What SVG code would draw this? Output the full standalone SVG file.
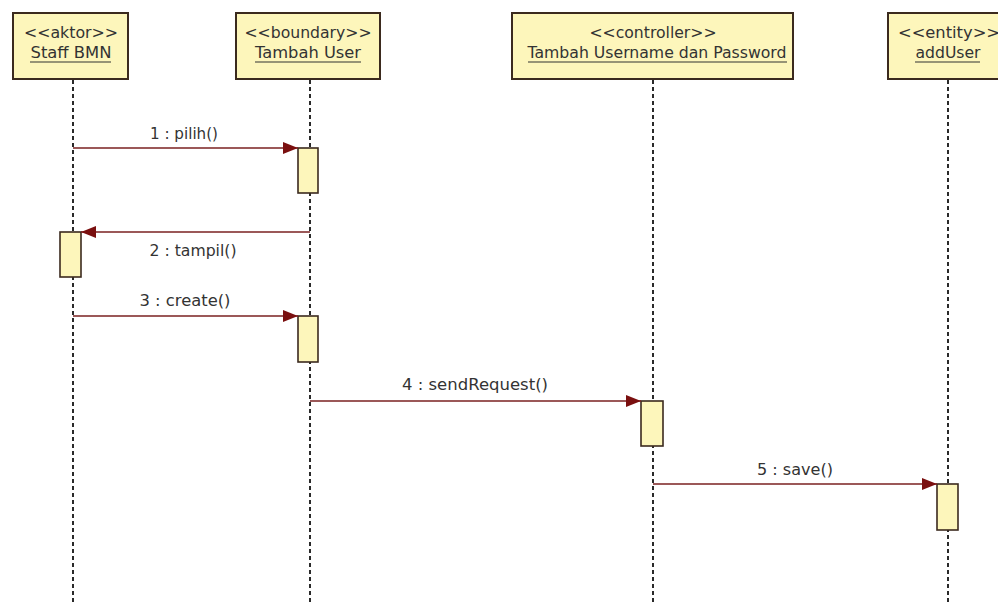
<svg xmlns="http://www.w3.org/2000/svg" width="998" height="605" viewBox="0 0 998 605">
<style>
.box{fill:#fdf6bb;stroke:#3b2a1e;stroke-width:2}
.act{fill:#fdf6bb;stroke:#3b2a1e;stroke-width:1.6}
.life{stroke:#2a2a2a;stroke-width:2;stroke-dasharray:4 3;fill:none}
.msg{stroke:#7a2020;stroke-width:1.4;fill:none}
.t{font-family:"DejaVu Sans",Verdana,sans-serif;font-size:16px;fill:#333;text-anchor:middle}
.m{font-family:"DejaVu Sans",Verdana,sans-serif;font-size:15px;fill:#333;text-anchor:middle}
.ul{stroke:#333;stroke-width:1.2}
</style>
<defs>
<marker id="ah" markerWidth="16" markerHeight="12" refX="15" refY="6" orient="auto" markerUnits="userSpaceOnUse">
<path d="M0,0 L15,6 L0,12 Z" fill="#7a0f0f"/>
</marker>
</defs>
<rect width="998" height="605" fill="#ffffff"/>
<g id="lifelines">
<line class="life" x1="73" y1="80" x2="73" y2="605"/>
<line class="life" x1="310" y1="80" x2="310" y2="605"/>
<line class="life" x1="653" y1="80" x2="653" y2="605"/>
<line class="life" x1="948" y1="80" x2="948" y2="605"/>
</g>
<g id="staff">
<rect class="box" x="13" y="13" width="115" height="66"/>
<text class="t" x="71" y="38" textLength="94" lengthAdjust="spacingAndGlyphs">&lt;&lt;aktor&gt;&gt;</text>
<text class="t" x="71" y="58" textLength="81" lengthAdjust="spacingAndGlyphs">Staff BMN</text>
<line class="ul" x1="30" y1="62" x2="111" y2="62"/>
</g>
<g id="tambahUser">
<rect class="box" x="236" y="13" width="144" height="66"/>
<text class="t" x="308" y="38" textLength="127" lengthAdjust="spacingAndGlyphs">&lt;&lt;boundary&gt;&gt;</text>
<text class="t" x="308" y="58" textLength="106" lengthAdjust="spacingAndGlyphs">Tambah User</text>
<line class="ul" x1="255" y1="62" x2="361" y2="62"/>
</g>
<g id="controller">
<rect class="box" x="512" y="13" width="281" height="66"/>
<text class="t" x="653" y="38" textLength="127" lengthAdjust="spacingAndGlyphs">&lt;&lt;controller&gt;&gt;</text>
<text class="t" x="657" y="58" textLength="259" lengthAdjust="spacingAndGlyphs">Tambah Username dan Password</text>
<line class="ul" x1="528" y1="62" x2="787" y2="62"/>
</g>
<g id="entity">
<rect class="box" x="888" y="13" width="122" height="66"/>
<text class="t" x="949" y="38" textLength="102" lengthAdjust="spacingAndGlyphs">&lt;&lt;entity&gt;&gt;</text>
<text class="t" x="948" y="58" textLength="65" lengthAdjust="spacingAndGlyphs">addUser</text>
<line class="ul" x1="915" y1="62" x2="980" y2="62"/>
</g>
<g id="activations">
<rect class="act" x="298" y="148" width="20" height="45"/>
<rect class="act" x="60" y="232" width="21" height="45"/>
<rect class="act" x="298" y="316" width="20" height="46"/>
<rect class="act" x="641" y="401" width="22" height="45"/>
<rect class="act" x="937" y="484" width="21" height="46"/>
</g>
<g id="connectors">
<line class="msg" x1="73" y1="148" x2="298" y2="148" marker-end="url(#ah)"/>
<text class="m" x="184" y="139" textLength="68" lengthAdjust="spacingAndGlyphs">1 : pilih()</text>
<line class="msg" x1="310" y1="232" x2="81" y2="232" marker-end="url(#ah)"/>
<text class="m" x="193" y="256" textLength="87" lengthAdjust="spacingAndGlyphs">2 : tampil()</text>
<line class="msg" x1="73" y1="316" x2="298" y2="316" marker-end="url(#ah)"/>
<text class="m" x="185" y="306" textLength="91" lengthAdjust="spacingAndGlyphs">3 : create()</text>
<line class="msg" x1="310" y1="401" x2="641" y2="401" marker-end="url(#ah)"/>
<text class="m" x="475" y="390" textLength="146" lengthAdjust="spacingAndGlyphs">4 : sendRequest()</text>
<line class="msg" x1="653" y1="484" x2="937" y2="484" marker-end="url(#ah)"/>
<text class="m" x="795" y="475" textLength="76" lengthAdjust="spacingAndGlyphs">5 : save()</text>
</g>
</svg>
